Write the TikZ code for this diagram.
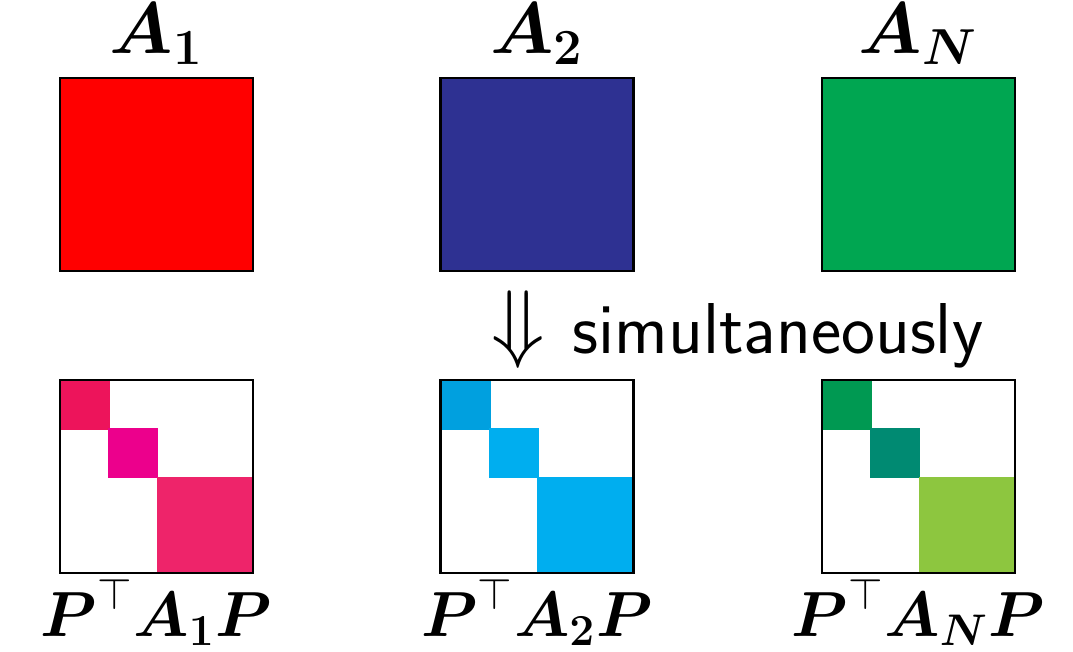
\documentclass[tikz,border=0pt]{standalone}
\usepackage{amsmath, amssymb}
\usepackage{xcolor}
\usepackage{tikz}
\usetikzlibrary{positioning}
\definecolor{matred}{RGB}{255,0,0}
\definecolor{matblue}{RGB}{46,49,146}
\definecolor{matgreen}{RGB}{0,166,81}
\definecolor{redA}{RGB}{237,20,91}
\definecolor{redB}{RGB}{236,0,140}
\definecolor{redC}{RGB}{238,36,106}
\definecolor{blueA}{RGB}{0,160,223}
\definecolor{blueB}{RGB}{0,174,239}
\definecolor{blueC}{RGB}{0,174,239}
\definecolor{greenA}{RGB}{0,153,82}
\definecolor{greenB}{RGB}{0,138,114}
\definecolor{greenC}{RGB}{141,198,63}
\tikzset{
  mat box/.style={
    draw=black,thick,minimum size=1.93cm,inner sep=0pt
  },
  top label/.style={
    anchor=base,inner sep=0pt,font=\fontsize{20.5}{24}\selectfont
  },
  bot label/.style={
    anchor=base,inner sep=0pt,font=\fontsize{18}{22}\selectfont
  }
}

\begin{document}
\begin{tikzpicture}
  \useasboundingbox (0,0) rectangle (10.73,6.51);

  \foreach \k/\x in {1/1.565,2/5.37,3/9.185} {
    \coordinate (T\k) at (\x,4.765);
    \coordinate (B\k) at (\x,1.745);
  }

  % diagonal blocks
  \foreach \k/\ca/\cb/\cc in {1/redA/redB/redC,2/blueA/blueB/blueC,3/greenA/greenB/greenC} {
    \fill[\ca] ([shift={(-0.965,0.965)}]B\k) rectangle +(0.50,-0.50);
    \fill[\cb] ([shift={(-0.485,0.485)}]B\k) rectangle +(0.50,-0.50);
    \fill[\cc] ([shift={(0,0)}]B\k) rectangle +(0.965,-0.965);
  }

  \foreach \k/\c in {1/matred,2/matblue,3/matgreen} {
    \node[mat box,fill=\c] (top\k) at (T\k) {};
    \node[mat box] (bot\k) at (B\k) {};
  }

  \foreach \k/\s in {1/1,2/2,3/N} {
    \node[top label] (ltop\k) at ([yshift=0.23cm]top\k.north)
      {$\boldsymbol{A_\s}$};
    \node[bot label] (lbot\k) at ([yshift=-0.62cm]bot\k.south)
      {\scalebox{1.05}{$\boldsymbol{P}^{\top}\boldsymbol{A_\s}\boldsymbol{P}$}};
  }

  \node[inner sep=0pt,font=\fontsize{23}{26}\selectfont] (arr) at (5.18,3.21)
    {$\Downarrow$};
  \node[anchor=base west,inner sep=0pt,font=\fontsize{20.5}{24}\selectfont\sffamily]
    (simul) at (5.72,2.98) {simultaneously};
\end{tikzpicture}
\end{document}
